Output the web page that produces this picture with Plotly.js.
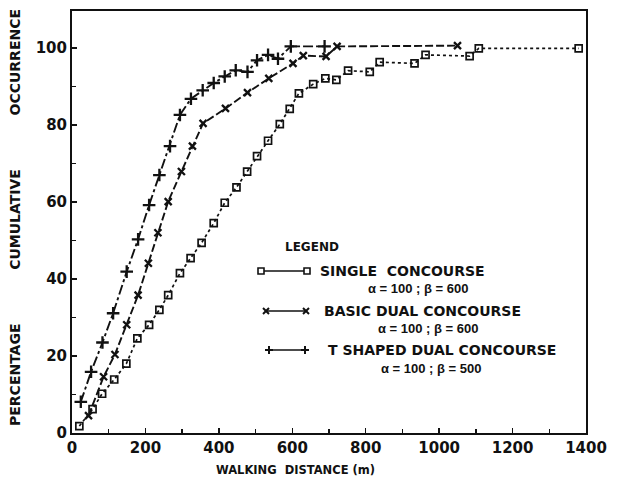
<!DOCTYPE html>
<html>
<head>
<meta charset="utf-8">
<script src="https://cdn.plot.ly/plotly-3.0.1.min.js"></script>
<style>html,body{margin:0;padding:0;background:#fff;}#chart{width:621px;height:480px;}</style>
</head>
<body>
<div id="chart"></div>
<script>
// Single concourse (alpha=100, beta=600)
var singleX = [20, 56, 82, 115, 148, 178, 210, 238, 262, 294, 323, 353, 386, 416, 448, 477, 504, 534, 566, 593, 618, 657, 690, 720, 752, 811, 838, 933, 963, 1083, 1108, 1380];
var singleY = [1.8, 6.2, 10.2, 13.9, 18.0, 24.6, 28.1, 32.0, 35.8, 41.5, 45.4, 49.4, 54.5, 59.8, 63.8, 67.9, 71.9, 75.9, 80.2, 84.2, 88.2, 90.6, 92.1, 91.7, 94.1, 93.8, 96.3, 96.0, 98.2, 97.9, 99.9, 99.9];
// Basic dual concourse (alpha=100, beta=600)
var basicX = [45, 86, 117, 149, 180, 208, 234, 262, 298, 328, 357, 418, 478, 536, 602, 630, 692, 722, 1050];
var basicY = [4.5, 14.6, 20.4, 28.1, 35.8, 44.1, 52.0, 60.1, 67.9, 74.5, 80.4, 84.3, 88.4, 92.1, 96.0, 98.0, 97.8, 100.4, 100.6];
// T shaped dual concourse (alpha=100, beta=500)
var tX = [24, 52, 83, 112, 149, 180, 210, 238, 267, 294, 324, 356, 386, 416, 446, 478, 504, 534, 561, 596, 688];
var tY = [8.1, 15.9, 23.5, 31.1, 41.9, 50.3, 59.2, 67.0, 74.5, 82.6, 86.8, 89.0, 90.9, 92.6, 94.2, 93.8, 96.8, 98.2, 97.2, 100.4, 100.4];

var xTickVals = [0, 200, 400, 600, 800, 1000, 1200, 1400];
var xTickText = ['0', '200', '400', '600', '800', '1000', '1200', '1400'];
var yTickVals = [0, 20, 40, 60, 80, 100];
var yTickText = ['0', '20', '40', '60', '80', '100'];

var NB = '\u00a0';
function gap(n) { return new Array(n + 1).join(NB); }
var xTitle = 'WALKING' + NB + NB + 'DISTANCE (m)';
var yTitle = 'PERCENTAGE' + gap(11) + 'CUMULATIVE' + gap(11) + 'OCCURRENCE';
var legendTitle = 'LEGEND';
var legendRows = [
  {name: 'SINGLE' + NB + NB + 'CONCOURSE', param: '\u03b1 = 100 ; \u03b2 = 600'},
  {name: 'BASIC DUAL CONCOURSE', param: '\u03b1 = 100 ; \u03b2 = 600'},
  {name: 'T SHAPED DUAL CONCOURSE', param: '\u03b1 = 100 ; \u03b2 = 500'}
];

var FONT = 'DejaVu Sans, Verdana, sans-serif';
var FONT2 = 'Liberation Sans, Arial, sans-serif';
var traces = [
  {x: singleX, y: singleY, mode: 'lines+markers', name: 'single',
   line: {color: '#111', width: 1.7, dash: '3px,3px'},
   marker: {symbol: 'square-open', size: 7, color: '#111', line: {width: 1.7, color: '#111'}}},
  {x: basicX, y: basicY, mode: 'lines+markers', name: 'basic',
   line: {color: '#111', width: 1.9, dash: '8px,3px'},
   marker: {symbol: 'x-thin-open', size: 7, color: '#111', line: {width: 2.3, color: '#111'}}},
  {x: tX, y: tY, mode: 'lines+markers', name: 'tshaped',
   line: {color: '#111', width: 1.9, dash: '10px,3px,3px,3px'},
   marker: {symbol: 'cross-thin-open', size: 9, color: '#111', line: {width: 2.3, color: '#111'}}}
];

// pixel -> paper helpers for the legend block and free titles
var L = 72, R = 586, T = 11, B = 433;
function px(x) { return (x - L) / (R - L); }
function py(y) { return (B - y) / (B - T); }

var shapes = [];
var annotations = [];
annotations.push({xref: 'paper', yref: 'paper', x: px(312), y: py(247), text: legendTitle, showarrow: false,
  font: {family: FONT, size: 12, color: '#111', weight: 'bold'}, xanchor: 'center', yanchor: 'middle'});
annotations.push({xref: 'paper', yref: 'paper', x: px(295), y: py(470), text: xTitle, showarrow: false,
  font: {family: FONT, size: 11.5, color: '#111', weight: 'bold'}, xanchor: 'center', yanchor: 'middle'});
annotations.push({xref: 'paper', yref: 'paper', x: px(15), y: py(218), text: yTitle, showarrow: false, textangle: -90,
  font: {family: FONT, size: 14, color: '#111', weight: 'bold'}, xanchor: 'center', yanchor: 'middle'});

var rowY = [271, 311, 350], paramY = [288, 328, 368];
var sampleL = [261, 266, 269], sampleR = [307, 306, 305];
var textL = [318, 322, 326], paramC = [418, 428, 431];
for (var i = 0; i < 3; i++) {
  shapes.push({type: 'line', xref: 'paper', yref: 'paper', x0: px(sampleL[i]), x1: px(sampleR[i]), y0: py(rowY[i]), y1: py(rowY[i]), line: {color: '#111', width: 1.7}});
  annotations.push({xref: 'paper', yref: 'paper', x: px(textL[i]), y: py(rowY[i]), text: legendRows[i].name, showarrow: false,
    font: {family: FONT, size: 14, color: '#111', weight: 'bold'}, xanchor: 'left', yanchor: 'middle'});
  annotations.push({xref: 'paper', yref: 'paper', x: px(paramC[i]), y: py(paramY[i]), text: legendRows[i].param, showarrow: false,
    font: {family: FONT2, size: 13, color: '#111', weight: 'bold'}, xanchor: 'center', yanchor: 'middle'});
}
// legend end-markers
[sampleL[0], sampleR[0]].forEach(function (xx) {
  shapes.push({type: 'rect', xref: 'paper', yref: 'paper', x0: px(xx - 3), x1: px(xx + 3), y0: py(rowY[0] + 3), y1: py(rowY[0] - 3), line: {color: '#111', width: 1.6}, fillcolor: '#fff'});
});
[sampleL[1], sampleR[1]].forEach(function (xx) {
  shapes.push({type: 'line', xref: 'paper', yref: 'paper', x0: px(xx - 3), x1: px(xx + 3), y0: py(rowY[1] - 3), y1: py(rowY[1] + 3), line: {color: '#111', width: 2}});
  shapes.push({type: 'line', xref: 'paper', yref: 'paper', x0: px(xx - 3), x1: px(xx + 3), y0: py(rowY[1] + 3), y1: py(rowY[1] - 3), line: {color: '#111', width: 2}});
});
[sampleL[2], sampleR[2]].forEach(function (xx) {
  shapes.push({type: 'line', xref: 'paper', yref: 'paper', x0: px(xx - 4), x1: px(xx + 4), y0: py(rowY[2]), y1: py(rowY[2]), line: {color: '#111', width: 2}});
  shapes.push({type: 'line', xref: 'paper', yref: 'paper', x0: px(xx), x1: px(xx), y0: py(rowY[2] - 4), y1: py(rowY[2] + 4), line: {color: '#111', width: 2}});
});

var layout = {
  width: 621, height: 480,
  margin: {l: L, r: 621 - R, t: T, b: 480 - B},
  paper_bgcolor: '#fff', plot_bgcolor: '#fff',
  showlegend: false,
  font: {family: FONT, color: '#111'},
  xaxis: {range: [0, 1400], tickvals: xTickVals, ticktext: xTickText, ticks: 'inside', ticklen: 5, tickwidth: 1.5, tickcolor: '#111',
    minor: {dtick: 100, tick0: 0, ticks: 'inside', ticklen: 4, tickcolor: '#111', tickwidth: 1.5},
    showgrid: false, zeroline: false, showline: true, linecolor: '#111', linewidth: 2, mirror: true,
    tickfont: {family: FONT, size: 15, color: '#111', weight: 'bold'}},
  yaxis: {range: [0, 109.6], tickvals: yTickVals, ticktext: yTickText, ticks: 'inside', ticklen: 5, tickwidth: 1.5, tickcolor: '#111',
    minor: {dtick: 10, tick0: 0, ticks: 'inside', ticklen: 4, tickcolor: '#111', tickwidth: 1.5},
    showgrid: false, zeroline: false, showline: true, linecolor: '#111', linewidth: 2, mirror: true,
    tickfont: {family: FONT, size: 15, color: '#111', weight: 'bold'}},
  shapes: shapes,
  annotations: annotations
};

Plotly.newPlot('chart', traces, layout, {staticPlot: true, displayModeBar: false});
</script>
</body>
</html>
